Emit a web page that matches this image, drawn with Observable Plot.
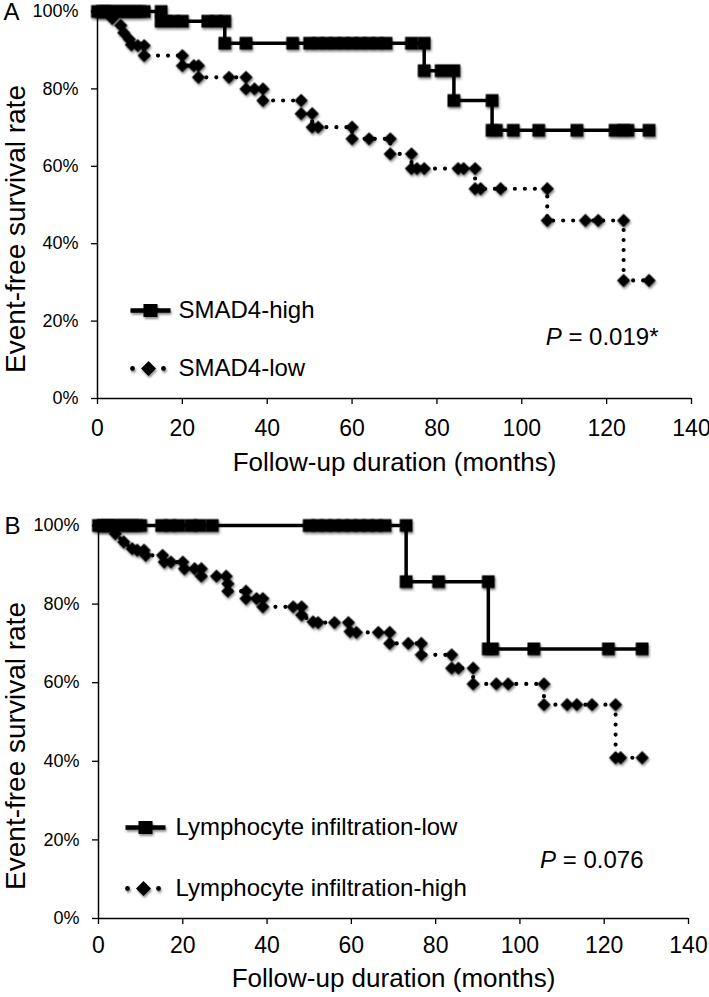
<!DOCTYPE html>
<html><head><meta charset="utf-8">
<script src="https://cdn.jsdelivr.net/npm/d3@7"></script>
<script src="https://cdn.jsdelivr.net/npm/@observablehq/plot@0.6"></script>
<style>
body{margin:0;background:#fff;}
#chart{width:709px;}
#chart svg{display:block;overflow:visible;}
</style></head><body><div id="chart"></div>
<script>
// ---- data (month, event-free survival %) ----
const xTicks = [0, 20, 40, 60, 80, 100, 120, 140];
const yTicks = [0, 20, 40, 60, 80, 100];
const xTitle = "Follow-up duration (months)";
const yTitle = "Event-free survival rate";

const smad4High = [[0,100],[1,100],[2,100],[3,100],[4,100],[5,100],[6,100],[7,100],[8,100],[9,100],[10,100],[11,100],
  [15,100],[15,97.5],[16,97.5],[18,97.5],[20,97.5],[26,97.5],[28,97.5],[30,97.5],
  [30,91.8],[35,91.8],[46,91.8],[50,91.8],[52,91.8],[54,91.8],[56,91.8],[58,91.8],[60,91.8],[62,91.8],[64,91.8],[66,91.8],[68,91.8],[74,91.8],[77,91.8],
  [77,84.7],[81,84.7],[84,84.7],[84,77],[93,77],[93,69.3],[94,69.3],[98,69.3],[104,69.3],[113,69.3],[122,69.3],[124,69.3],[125,69.3],[130,69.3]];
const smad4Low = [[0,100],[0.5,100],[1,100],[1.5,100],[2,100],[2.5,100],[3,100],[3.5,98.2],[5.5,96.4],[6.2,94.5],[7.5,92.8],[8,91.4],[9.5,91.2],[11,91.2],
  [11,88.6],[20,88.6],[20,86],[22.7,86],[23.8,86],[23.8,83],[31,83],[35,83],[35,80],[37,80],[39,80],[39,77],[48,77],[48,73.6],[50.6,73.6],[50.6,70.1],[52,70.1],[60,70.1],
  [60,67.1],[64,67.1],[69,67.1],[69,63.2],[74,63.2],[74,59.4],[75.3,59.4],[77,59.4],[85,59.4],[86.3,59.4],[89,59.4],[89,54.2],[90.3,54.2],[95,54.2],[106,54.2],
  [106,46],[115,46],[118,46],[124,46],[124,30.5],[130,30.5]];
const lymphLow = [[0,100],[1,100],[2,100],[3,100],[4,100],[5,100],[6,100],[7,100],[8,100],[9,100],[10,100],[15,100],[17,100],[19,100],[22,100],[24,100],[27,100],
  [50,100],[52,100],[54,100],[56,100],[58,100],[60,100],[62,100],[64,100],[66,100],[68,100],[73,100],[73,85.7],[80.7,85.7],[92.5,85.7],[92.5,68.6],[93.5,68.6],[103.3,68.6],[121,68.6],[129,68.6]];
const lymphHigh = [[0,100],[0.5,100],[1,100],[1.5,100],[2,100],[2.5,100],[3,100],[3.5,100],[4,97.9],[6,95.8],[8,94.1],[9.2,93.7],[10.8,93.7],[11.2,92.4],[15.2,92.4],
  [15.6,90.7],[17.2,90.7],[20,90.7],[20.4,89],[22.8,89],[24.4,89],[24.4,87.1],[28,87.1],[30.3,87.1],[30.7,85.2],[30.7,83.3],[35,83.3],[35,81.4],[37.5,81.4],[39,81.4],
  [39,79.3],[46.2,79.3],[48.2,79.3],[48.2,77.2],[50.9,75.5],[52.1,75.3],[56,75.3],[59.3,75.3],[59.7,73],[61.2,72.8],[66.4,72.8],[69.1,72.8],[69.1,70],[73.5,70],[76.6,70],
  [76.6,67.1],[83.8,67.1],[83.8,63.7],[85.4,63.7],[88.9,63.7],[88.9,59.7],[94.4,59.7],[97.2,59.7],[105.7,59.7],[105.7,54.4],[111.2,54.4],[113.5,54.4],[117.1,54.4],
  [122.7,54.4],[122.7,40.9],[123.9,40.9],[129,40.9]];

const panelLetters = ["A", "B"];
const solidLabels = ["SMAD4-high", "Lymphocyte infiltration-low"];
const dottedLabels = ["SMAD4-low", "Lymphocyte infiltration-high"];
const pLabels = ["P = 0.019*", "P = 0.076"];

// ---- legend glyphs as custom symbols ----
const legendSolid = {draw(ctx) {
  ctx.rect(-20, -2.3, 40, 4.6);
  ctx.rect(-7, -6.5, 14, 13);
}};
const legendDotted = {draw(ctx) {
  for (const cx of [-16, 15]) { ctx.moveTo(cx + 2.4, 0); ctx.arc(cx, 0, 2.4, 0, 2 * Math.PI); }
  ctx.moveTo(0, -7.5); ctx.lineTo(7.5, 0); ctx.lineTo(0, 7.5); ctx.lineTo(-7.5, 0); ctx.closePath();
}};

const FONT = "'Liberation Sans', Arial, Helvetica, sans-serif";

function panel(o) {
  const X = d => d[0], Y = d => d[1];
  return Plot.plot({
    width: 709, height: o.height,
    marginTop: o.mt, marginBottom: o.mb, marginLeft: o.ml, marginRight: o.mr,
    style: {fontFamily: FONT, background: "white", overflow: "visible", color: "black"},
    x: {domain: [0, 140], axis: null},
    y: {domain: [0, 100], axis: null},
    marks: [
      Plot.axisX({ticks: xTicks, tickSize: 6, tickPadding: o.xpad, fontSize: 23, label: null, strokeWidth: 1.3}),
      Plot.axisY({ticks: yTicks, tickSize: 6, tickPadding: 13, fontSize: 18, label: null, tickFormat: d => d + "%", strokeWidth: 1.3}),
      Plot.ruleX([0], {strokeWidth: 1.5}),
      Plot.ruleY([0], {strokeWidth: 1.5}),
      Plot.line(o.low, {x: X, y: Y, stroke: "black", strokeWidth: 4.2, strokeDasharray: "0,10", strokeLinecap: "round"}),
      Plot.line(o.high, {x: X, y: Y, stroke: "black", strokeWidth: 3.5}),
      Plot.dot(o.low, {x: X, y: Y, symbol: "diamond2", r: 6, fill: "black"}),
      Plot.dot(o.high, {x: X, y: Y, symbol: "square", r: 7.2, fill: "black"}),
      // legend
      Plot.dot([o.solid], {frameAnchor: "bottom-left", dx: o.lg1[0], dy: o.lg1[1], symbol: legendSolid, fill: "black"}),
      Plot.dot([o.dotted], {frameAnchor: "bottom-left", dx: o.lg2[0], dy: o.lg2[1], symbol: legendDotted, fill: "black"}),
      Plot.text([o.solid], {frameAnchor: "bottom-left", dx: o.lgText, dy: o.lg1[1], textAnchor: "start", lineAnchor: "middle", fontSize: 24}),
      Plot.text([o.dotted], {frameAnchor: "bottom-left", dx: o.lgText, dy: o.lg2[1], textAnchor: "start", lineAnchor: "middle", fontSize: 24}),
      Plot.text([o.p], {frameAnchor: "bottom-right", dx: o.pPos[0], dy: o.pPos[1], textAnchor: "end", lineAnchor: "middle", fontSize: 24}),
      // titles
      Plot.text([xTitle], {frameAnchor: "bottom", dy: o.xTitleDy, textAnchor: "middle", lineAnchor: "middle", fontSize: 26}),
      Plot.text([yTitle], {frameAnchor: "left", dx: o.yTitleDx, dy: 24, rotate: -90, textAnchor: "middle", lineAnchor: "middle", fontSize: 28}),
      Plot.text([o.letter], {frameAnchor: "top-left", dx: -94, dy: 1, textAnchor: "start", lineAnchor: "middle", fontSize: 24})
    ]
  });
}

const specs = [
  {letter: panelLetters[0], high: smad4High, low: smad4Low, solid: solidLabels[0], dotted: dottedLabels[0], p: pLabels[0],
   height: 485, mt: 11, mb: 87, ml: 97, mr: 18, xpad: 15, xTitleDy: 64, yTitleDx: -81,
   lg1: [53, -88], lg2: [51, -30], lgText: 81, pPos: [-33, -61]},
  {letter: panelLetters[1], high: lymphLow, low: lymphHigh, solid: solidLabels[1], dotted: dottedLabels[1], p: pLabels[1],
   height: 512, mt: 40, mb: 79, ml: 98, mr: 21, xpad: 12, xTitleDy: 60, yTitleDx: -82,
   lg1: [47, -91], lg2: [45, -30], lgText: 77, pPos: [-45, -58]}
];

const root = document.getElementById("chart");
for (const s of specs) {
  const svg = panel(s);
  root.appendChild(svg);
  const sel = d3.select(svg);
  sel.selectAll('g[aria-label="dot"]').style("filter", "drop-shadow(1px 2px 1.2px rgba(0,0,0,0.45))");
  sel.selectAll("text").each(function() {
    const t = this.textContent;
    if (t.startsWith("P =")) {
      const rest = t.slice(1);
      this.textContent = "";
      d3.select(this).append("tspan").attr("font-style", "italic").text("P");
      d3.select(this).append("tspan").text(rest);
    }
  });
}
</script></body></html>
